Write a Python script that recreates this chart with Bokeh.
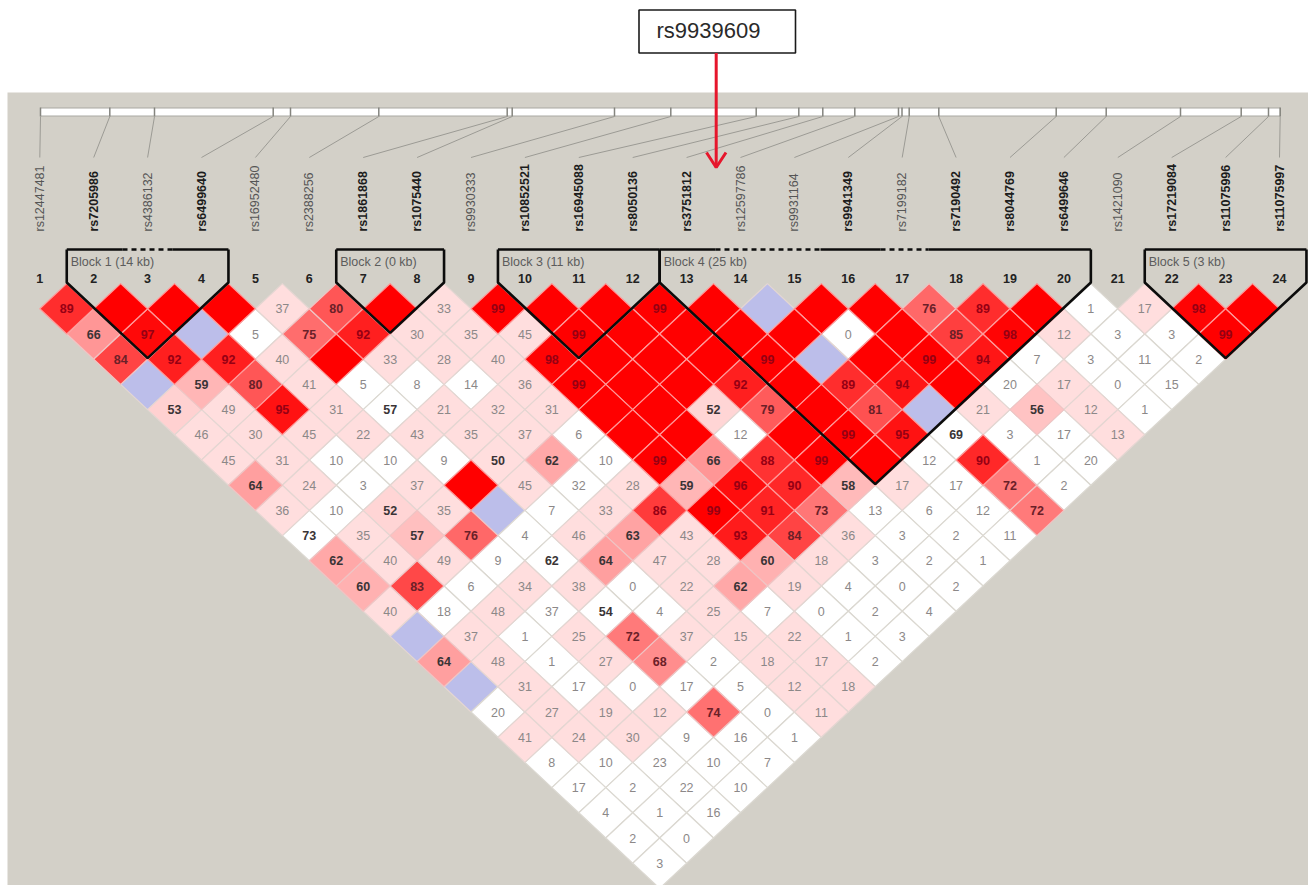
from bokeh.plotting import figure
from bokeh.models import ColumnDataSource
from bokeh.embed import file_html
from bokeh.resources import INLINE
from bokeh.core.properties import value
import math

# ---- data -----------------------------------------------------------------
marker_names = ["rs12447481","rs7205986","rs4386132","rs6499640","rs16952480","rs2388256",
                "rs1861868","rs1075440","rs9930333","rs10852521","rs16945088","rs8050136",
                "rs3751812","rs12597786","rs9931164","rs9941349","rs7199182","rs7190492",
                "rs8044769","rs6499646","rs1421090","rs17219084","rs11075996","rs11075997"]
tag_markers = [2,4,7,8,10,11,12,13,16,18,19,20,22,23,24]
# position of each marker on the physical map bar
map_positions = [40,109.3,154,272.7,290,378.3,506.7,511.7,614,670.3,755.7,798.3,822.3,854.3,
                 898,901.5,908.7,938.3,1055.7,1105.7,1180,1240.7,1268,1279.7]
# blocks: label, first marker, last marker
block_labels = ["Block 1 (14 kb)","Block 2 (0 kb)","Block 3 (11 kb)","Block 4 (25 kb)","Block 5 (3 kb)"]
block_first = [2,7,10,13,22]
block_last = [4,8,12,20,24]
callout_label = "rs9939609"

# D' x 100 for marker pairs (i, i+d). 100 = complete LD with strong LOD (no label),
# -100 = D'=1 with low LOD, values <= 0 = D'<1 with low LOD, positive = D'<1, strong LOD.
d1 = [89,100,100,100,37,80,100,33,99,100,100,99,100,-100,100,100,76,89,100,-1,17,98,100]
d2 = [66,97,-100,-5,75,92,30,35,45,99,100,100,100,100,0,100,85,98,12,-3,-3,99]
d3 = [84,92,92,40,100,33,28,40,98,100,100,100,99,-100,100,99,94,-7,-3,-11,-2]
d4 = [-100,59,80,41,-5,-8,-14,36,99,100,100,92,100,89,94,100,-20,17,0,-15]
d5 = [53,49,95,31,-57,21,32,31,100,100,52,79,100,81,-100,21,56,12,-1]
d6 = [46,30,45,22,43,35,37,-6,100,100,-12,100,99,95,-69,-3,-17,13]
d7 = [45,31,-10,-10,-9,50,62,-10,99,66,88,99,100,-12,90,-1,-20]
d8 = [64,24,-3,37,100,45,-32,28,59,96,90,58,17,-17,72,-2]
d9 = [36,-10,52,35,-100,-7,33,86,99,91,73,-13,-6,-12,72]
d10 = [-73,35,57,76,-4,46,63,43,93,84,36,-3,-2,-11]
d11 = [62,40,49,-9,-62,64,47,28,60,18,-3,-2,-1]
d12 = [60,83,-6,34,38,0,22,62,19,-4,0,-2]
d13 = [40,-18,48,-37,-54,-4,25,-7,0,-2,-4]
d14 = [-100,37,-1,25,72,37,15,22,-1,-3]
d15 = [64,48,-1,27,68,-2,18,17,-2]
d16 = [-100,31,-17,0,-17,-5,12,18]
d17 = [-20,27,19,12,74,0,11]
d18 = [41,24,30,-9,-16,-1]
d19 = [-8,-10,-23,-10,-7]
d20 = [-17,-2,-22,-10]
d21 = [-4,-1,-16]
d22 = [-2,0]
d23 = [-3]
ld_rows = [d1,d2,d3,d4,d5,d6,d7,d8,d9,d10,d11,d12,d13,d14,d15,d16,d17,d18,d19,d20,d21,d22,d23]

# ---- layout (page pixels) ---------------------------------------------------
W, H = 1308, 885
X0, STEP = 39.3, 53.9
HALF_W, HALF_H = STEP / 2, 25.2
Y_TOP = 308.3
BLOCK_TOP, BLOCK_SHOULDER = 249, 282
mx = lambda i: X0 + STEP * (i - 1)
BG = "#d3d0c8"

p = figure(width=W, height=H, x_range=(0, W), y_range=(H, 0), output_backend="svg",
           toolbar_location=None, min_border=0, outline_line_color=None,
           background_fill_color="white", border_fill_color="white")
p.axis.visible = False
p.grid.visible = False
p.styles = {"position": "absolute", "left": "0px", "top": "0px"}

# panel
p.quad(left=7, right=W, top=92, bottom=H, fill_color=BG, line_color=None)

# physical map bar
p.quad(left=map_positions[0], right=map_positions[-1], top=107.5, bottom=115.5,
       fill_color="white", line_color="#a9a8a2", line_width=1)
p.segment(x0=map_positions, x1=map_positions, y0=[107]*24, y1=[116]*24, line_color="#85857f", line_width=1.5)
p.segment(x0=map_positions, x1=[mx(i) for i in range(1, 25)], y0=[116]*24, y1=[157]*24,
          line_color="#9c9b95", line_width=1)

# marker names
names_src = ColumnDataSource(dict(
    x=[mx(i) for i in range(1, 25)], y=[231]*24, t=marker_names,
    st=["bold" if i in tag_markers else "normal" for i in range(1, 25)],
    c=["#1c1c1c" if i in tag_markers else "#555555" for i in range(1, 25)]))
p.text("x", "y", text="t", source=names_src, angle=math.pi/2, text_align="left", text_baseline="middle",
       text_font=value("Liberation Sans"), text_font_size="12.5px", text_font_style="st", text_color="c")

# marker numbers
p.text([mx(i) for i in range(1, 25)], [278]*24, text=[str(i) for i in range(1, 25)],
       text_align="center", text_baseline="middle", text_font=value("Liberation Sans"),
       text_font_size="12.5px", text_font_style="bold", text_color="#222222")

# LD cells
def fill_of(v):
    if v == 100:
        return "#ff0000", 0
    if v == -100:
        return "#bcbeea", 255
    if v <= 0:
        return "#ffffff", 255
    g = int(min(222, 4.55 * (99 - v)))
    return "#ff%02x%02x" % (g, g), g

cells = []
for di, row in enumerate(ld_rows):
    for k, v in enumerate(row):
        cx = mx(k + 1) + (di + 1) * HALF_W
        cy = Y_TOP + di * HALF_H
        col, g = fill_of(v)
        cells.append((g, v, cx, cy, col))
cells.sort(key=lambda c: -c[0])

xs, ys, fc, lc, tx, ty, tt, tc, ts = [], [], [], [], [], [], [], [], []
for g, v, cx, cy, col in cells:
    xs.append([cx - HALF_W, cx, cx + HALF_W, cx])
    ys.append([cy, cy - HALF_H, cy, cy + HALF_H])
    fc.append(col)
    lc.append("#ff9a9a" if g < 60 else ("#f0c4c4" if g < 200 else ("#e4d6d2" if col != "#ffffff" else "#dbd8d1")))
    a = abs(v)
    if a == 100:
        continue
    tx.append(cx); ty.append(cy); tt.append(str(a))
    if g < 60:
        tc.append("#960014")
    elif g < 150:
        tc.append("#6a2028")
    elif a >= 50:
        tc.append("#3a3436")
    else:
        tc.append("#8c8888")
    ts.append("bold" if a >= 50 else "normal")

p.patches(xs, ys, fill_color=fc, line_color=lc, line_width=1.2)
p.text(x=tx, y=ty, text=tt, text_color=tc, text_font_style=ts,
       text_align="center", text_baseline="middle", text_font=value("Liberation Sans"),
       text_font_size="12.5px")

# blocks
for lab, a, b in zip(block_labels, block_first, block_last):
    left, right = mx(a) - HALF_W, mx(b) + HALF_W
    n = b - a + 1
    apex_x, apex_y = (left + right) / 2, BLOCK_SHOULDER + n * HALF_H
    p.line([left, left, apex_x, right, right],
           [BLOCK_TOP, BLOCK_SHOULDER, apex_y, BLOCK_SHOULDER, BLOCK_TOP],
           line_color="#0c0c0c", line_width=2.6)
    p.text([left + 4], [261], text=[lab], text_align="left", text_baseline="middle",
           text_font=value("Liberation Sans"), text_font_size="12.5px", text_color="#5c5c5c")

# top line of blocks, solid and dashed stretches
solid_spans = [(mx(2)-HALF_W, 122), (172, mx(4)+HALF_W), (mx(7)-HALF_W, mx(8)+HALF_W),
               (mx(10)-HALF_W, mx(12)+HALF_W), (mx(13)-HALF_W, 715), (820, 880), (928, mx(20)+HALF_W),
               (mx(22)-HALF_W, mx(24)+HALF_W)]
dashed_spans = [(122, 172), (715, 820), (880, 928)]
for a, b in solid_spans:
    p.line([a, b], [BLOCK_TOP, BLOCK_TOP], line_color="#0c0c0c", line_width=2.6)
for a, b in dashed_spans:
    p.line([a, b], [BLOCK_TOP, BLOCK_TOP], line_color="#0c0c0c", line_width=2.6, line_dash="5 4")

# call-out box and arrow
p.quad(left=638.5, right=795, top=9.5, bottom=52.5, fill_color="white", line_color="#1a1a1a", line_width=1.6)
p.text([708], [29.5], text=[callout_label], text_align="center", text_baseline="middle",
       text_font=value("Liberation Sans"), text_font_size="22px", text_color="#2a2a2a")
p.line([715.7, 715.7], [52.5, 167], line_color="#e6162c", line_width=3)
p.line([706, 715.7, 725.5], [152, 167, 152], line_color="#e6162c", line_width=3)

open("out.html", "w").write(file_html(p, INLINE))
